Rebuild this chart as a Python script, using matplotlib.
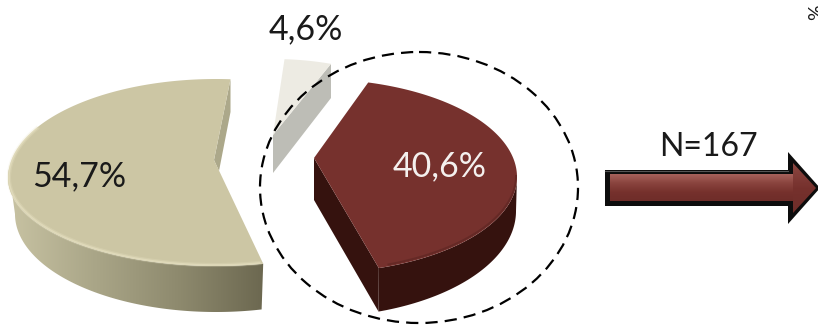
import numpy as np
import matplotlib
matplotlib.use("Agg")
import matplotlib.pyplot as plt
from matplotlib.colors import LinearSegmentedColormap
from matplotlib.patches import Polygon, Ellipse

plt.rcParams["font.family"] = ["Lato", "DejaVu Sans"]

labels = ["54,7%", "40,6%", "4,6%"]
values = [54.7, 40.6, 4.6]
sample_label = "N=167"

START_ANGLE = 86.0


def slice_angles():
    # angles run counter-clockwise: big slice, then maroon, then the small one
    total = sum(values)
    edges = START_ANGLE + np.cumsum([0] + values) * 360.0 / total
    return list(zip(edges[:-1], edges[1:]))


def arc(cx, cy, a, b, t0, t1, b_low=None, n=160):
    # elliptical arc, the near half can be flatter than the far half
    t = np.radians(np.linspace(t0, t1, n))
    s = np.sin(t)
    if b_low is None:
        b_low = b
    return np.column_stack([cx + a * np.cos(t), cy - np.where(s >= 0, b, b_low) * s])


def shaded(ax, pts, colors, zorder, vertical=False):
    # polygon filled with a gradient, imshow clipped to the outline
    cmap = LinearSegmentedColormap.from_list("shade", colors)
    poly = Polygon(pts, closed=True, fc="none", ec="none", zorder=zorder)
    ax.add_patch(poly)
    g = np.linspace(0, 1, 256)
    g = g[:, None] if vertical else g[None, :]
    x0, y0 = pts.min(axis=0)
    x1, y1 = pts.max(axis=0)
    im = ax.imshow(g, cmap=cmap, extent=(x0, x1, y1, y0), aspect="auto",
                   zorder=zorder, interpolation="bilinear")
    im.set_clip_path(poly)


fig = plt.figure(figsize=(8.18, 3.25), dpi=100)
ax = fig.add_axes([0, 0, 1, 1])
angles = slice_angles()

# big slice
t0, t1 = angles[0]
top = arc(216, 178, 208, 99, t0, t1, b_low=88)
apex1 = np.array([214, 160])
lower = arc(216, 214, 201, 98, 180, t1)
ax.add_patch(Polygon([top[0], (top[0][0], 112), (219, 171), apex1], fc="#aca88a", ec="none", zorder=2))
wall = np.vstack([arc(216, 178, 208, 99, 175, t1, b_low=88), lower[::-1]])
shaded(ax, wall, ["#c8c3a3", "#aaa688", "#8e8a6e", "#6c6850"], 3)
ax.add_patch(Polygon(np.vstack([top, [apex1]]), fc="#ccc6a4", ec="none", zorder=4))
rim = arc(216, 177.5, 207, 98, 150, t1 - 1, b_low=87.5)
ax.plot(*rim.T, color="#ebe5c6", lw=3, alpha=0.25, zorder=5)
ax.plot(*rim.T, color="#ebe5c6", lw=1.2, alpha=0.5, zorder=5)

# maroon slice
t0, t1 = angles[1]
t0, t1 = t0 + 5.3, t1 + 5.3
top = arc(315, 177, 202, 98, t0, t1, b_low=96)
apex2 = np.array([314, 158])
lower = arc(315, 211, 201, 106, t0, 360)
wall = np.vstack([arc(315, 177, 202, 96, t0, 360), lower[::-1]])
ax.add_patch(Polygon([apex2, (314, 200), lower[0], top[0]], fc="#35120e", ec="none", zorder=2))
ax.add_patch(Polygon(wall, fc="#35120e", ec="none", zorder=2))
ax.add_patch(Polygon(np.vstack([top, [apex2]]), fc="#76312d", ec="none", zorder=4))
ax.plot(*arc(315, 176, 201, 95, t0 + 3, 360).T, color="#5e2623", lw=1.4, alpha=0.7, zorder=5)

# small slice
t0, t1 = angles[2]
top = arc(273, 135, 165, 76, t0, t1)
t0_pt = top[0]
ax.add_patch(Polygon([t0_pt, (t0_pt[0], 98), (273, 173), (273, 135)], fc="#bdbdb6", ec="none", zorder=2))
ax.add_patch(Polygon(np.vstack([top, [(273, 135)]]), fc="#edebe3", ec="none", zorder=4))

# dashed ring around the maroon slice
ax.add_patch(Ellipse((419, 187.5), 318, 271, fc="none", ec="black", lw=1.6,
                     linestyle=(0, (5.5, 3.2)), zorder=6))

# arrow
outer = np.array([(605, 170), (788, 170), (788, 152), (820, 188), (788, 224), (788, 206), (605, 206)])
ax.add_patch(Polygon(outer, fc="#0d0d0d", ec="none", zorder=2))
body = np.array([(610, 174), (793, 174), (793, 201), (610, 201)])
shaded(ax, body, ["#a7625c", "#8a443e", "#76312d", "#6e2d29"], 3, vertical=True)
head = np.array([(793, 163), (816, 188), (793, 213)])
shaded(ax, head, ["#8c4741", "#76312d", "#6e2d29"], 3, vertical=True)
ax.plot([605, 788], [171, 171], color="#555555", lw=0.8, zorder=3)

# text
ax.text(79, 176, labels[0], fontsize=24.5, color="#1a1a1a", ha="center", va="center", zorder=7)
ax.text(440, 166, labels[1], fontsize=24.5, color="#f4f0ee", ha="center", va="center", zorder=7)
ax.text(306, 29, labels[2], fontsize=24.5, color="#1a1a1a", ha="center", va="center", zorder=7)
ax.text(708, 147, sample_label, fontsize=23, color="#1a1a1a", ha="center", va="center", zorder=7)
ax.text(817, 12, "%", fontsize=14, color="#1a1a1a", rotation=90, ha="center", va="center", zorder=7)

ax.set_xlim(0, 818)
ax.set_ylim(325, 0)
ax.axis("off")
fig.savefig("out.png", dpi=100)
